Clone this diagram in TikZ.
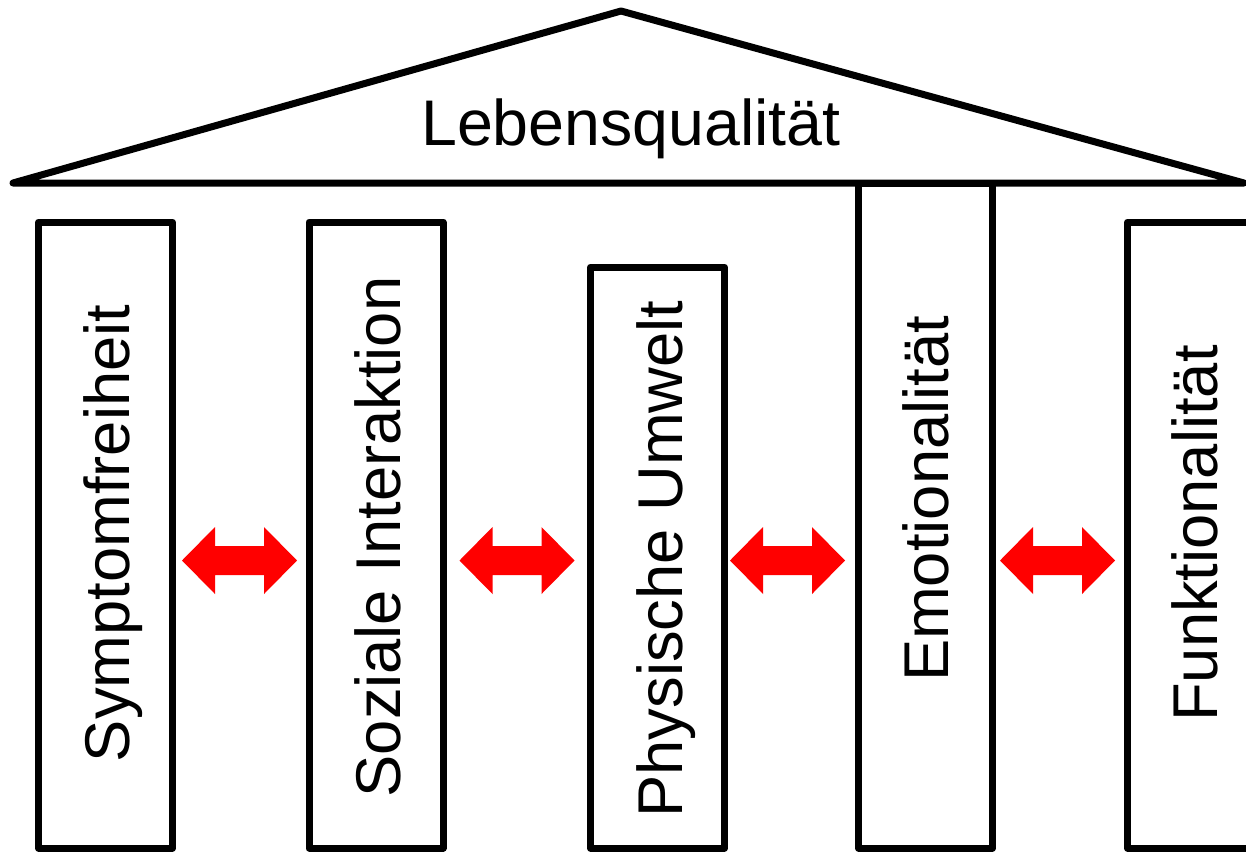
\documentclass[tikz,border=0pt]{standalone}
\usepackage{fontspec}
\setmainfont{Liberation Sans}
\begin{document}
\begin{tikzpicture}[x=1pt,y=-1pt,
  pillar/.style={draw=black,line width=7pt,line join=round,fill=none,inner sep=0pt,minimum width=134pt},
  ptext/.style={rotate=90,anchor=base,inner sep=0pt,font=\fontsize{63.3}{70}\selectfont},
  dblarrow/.pic={\fill[red] (-57.5,0) -- (-24.5,-33.5) -- (-24.5,-14.5) -- (24.5,-14.5) -- (24.5,-33.5) -- (57.5,0) -- (24.5,33.5) -- (24.5,14.5) -- (-24.5,14.5) -- (-24.5,33.5) -- cycle;}]
\useasboundingbox (0,0) rectangle (1246,852);
% roof
\coordinate (rl) at (13,183);
\coordinate (rt) at (621,11);
\coordinate (rr) at (1244,183);
\draw[line width=7pt,line join=round,line cap=round] (rl) -- (rt) -- (rr) -- cycle;
\node[inner sep=0pt,anchor=base,font=\fontsize{64.5}{70}\selectfont] (title) at (631,145) {Lebensqualität};
% pillars
\node[pillar,minimum height=626pt] (p1) at (105.5,535) {};
\node[pillar,minimum height=626pt] (p2) at (376,535) {};
\node[pillar,minimum height=581pt] (p3) at (657.5,557.5) {};
\node[pillar,minimum height=665pt] (p4) at (925.5,515.5) {};
\node[pillar,minimum height=626pt] (p5) at (1194.5,535) {};
% texts
\node[ptext] (t1) at (129,533.5) {Symptomfreiheit};
\node[ptext] (t2) at (400,537) {Soziale Interaktion};
\node[ptext] (t3) at (682,559) {Physische Umwelt};
\node[ptext] (t4) at (948,499) {Emotionalität};
\node[ptext] (t5) at (1217,533.5) {Funktionalität};
% arrows
\pic at (239.5,560.5) {dblarrow};
\pic at (517,560.5) {dblarrow};
\pic at (787.5,560.5) {dblarrow};
\pic at (1057.5,560.5) {dblarrow};
\end{tikzpicture}
\end{document}
